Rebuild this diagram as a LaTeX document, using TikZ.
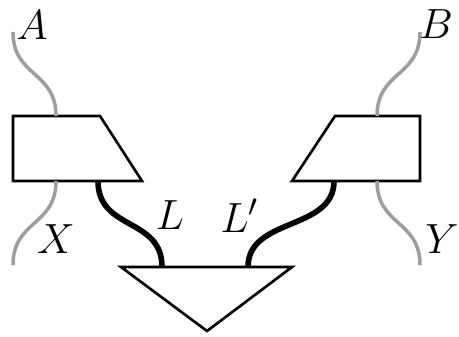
\documentclass[tikz,border=0pt]{standalone}
\usetikzlibrary{calc}

\begin{document}
\begin{tikzpicture}[x=0.01cm, y=-0.01cm,
		box/.style={line width=0.75pt, line join=miter},
		wire/.style={line width=1pt, color=black!38},
		bold wire/.style={line width=1.6pt, color=black},
		lbl/.style={anchor=base, inner sep=0pt, font=\fontsize{13}{15}\selectfont}]
		%%%%% START %%%%%
		\useasboundingbox (0,0) rectangle (459,336);
		
		% left box
		\draw[box] (13,116) -- (100,116) -- (142,181) -- (13,181) -- cycle;
		\coordinate (fA) at (56,116);
		\coordinate (fX) at (56,181);
		\coordinate (fL) at (98,181);
		
		% right box
		\draw[box] (335,116) -- (420,116) -- (420,181) -- (292,181) -- cycle;
		\coordinate (gB) at (377,116);
		\coordinate (gY) at (377,181);
		\coordinate (gL) at (334,181);
		
		% triangle at the bottom
		\draw[box] (121,267) -- (292,267) -- (207,331) -- cycle;
		\coordinate (hL) at (162,267);
		\coordinate (hLp) at (248,267);
		
		% loose ends
		\coordinate (A) at (13,32);
		\coordinate (B) at (420,32);
		\coordinate (X) at (13,265);
		\coordinate (Y) at (420,265);
		
		% grey wires
		\draw[wire] (A) .. controls +(0,45) and +(0,-45) .. (fA);
		\draw[wire] (fX) .. controls +(0,45) and +(0,-45) .. (X);
		\draw[wire] (B) .. controls +(0,45) and +(0,-45) .. (gB);
		\draw[wire] (gY) .. controls +(0,45) and +(0,-45) .. (Y);
		
		% black wires
		\draw[bold wire] (fL) .. controls +(0,50) and +(0,-50) .. (hL);
		\draw[bold wire] (gL) .. controls +(0,50) and +(0,-50) .. (hLp);
		
		% labels
		\node[lbl] (lA) at (32,39) {$A$};
		\node[lbl] (lB) at (436,38) {$B$};
		\node[lbl] (lX) at (56,253) {$X$};
		\node[lbl] (lY) at (442,253) {$Y$};
		\node[lbl] (lL) at (170,229) {$L$};
		\node[lbl] (lLp) at (240,232) {$L'$};
		
		%%%%% END %%%%%
	\end{tikzpicture}
\end{document}
